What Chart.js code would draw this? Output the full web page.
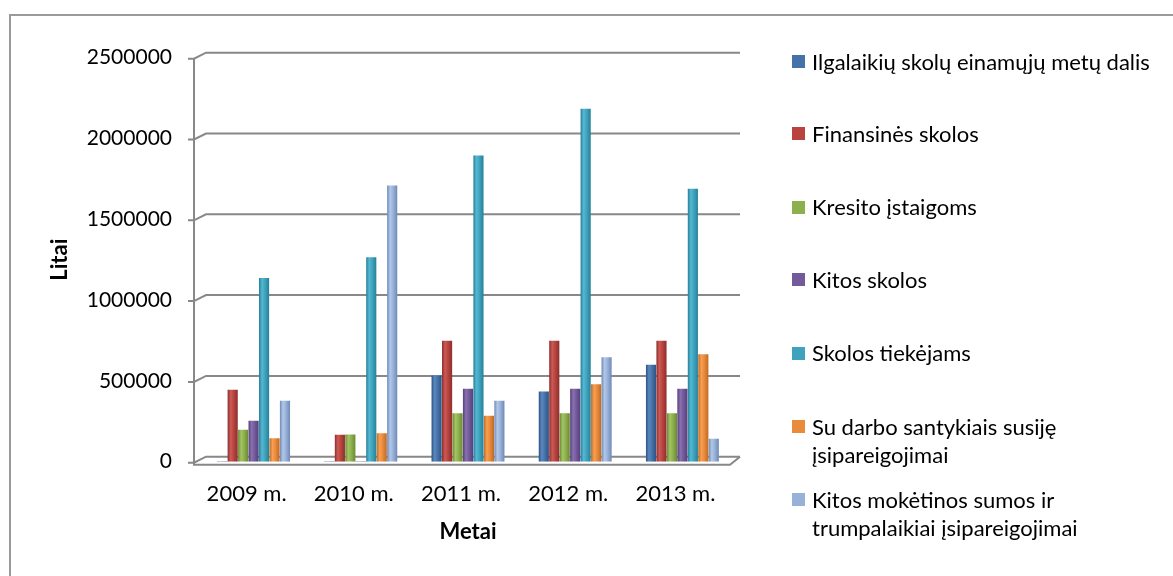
<!DOCTYPE html>
<html>
<head>
<meta charset="utf-8">
<script src="https://cdn.jsdelivr.net/npm/chart.js@4"></script>
<style>
  html, body { margin: 0; padding: 0; background: #fff; }
  #wrap { position: relative; width: 1173px; height: 576px; overflow: hidden; }
  #frame { position: absolute; left: 9px; top: 14px; width: 1200px; height: 600px;
           border-left: 2px solid #9a9a9a; border-top: 2px solid #9a9a9a; box-sizing: border-box; }
  canvas { position: absolute; left: 0; top: 0; }
  #legend { position: absolute; left: 792px; top: 0; font-family: Lato, "Open Sans", sans-serif;
            font-size: 22px; color: #000; }
  .item { position: absolute; left: 0; white-space: nowrap; }
  .sw { position: absolute; left: 0; width: 13px; height: 13px; }
  .txt { position: absolute; left: 20px; line-height: 28.3px; }
</style>
</head>
<body>
<div id="wrap">
  <div id="frame"></div>
  <canvas id="c" width="1173" height="576"></canvas>
  <div id="legend"></div>
</div>
<script>
const categories = ['2009 m.', '2010 m.', '2011 m.', '2012 m.', '2013 m.'];
const seriesNames = [
  'Ilgalaikių skolų einamųjų metų dalis',
  'Finansinės skolos',
  'Kresito įstaigoms',
  'Kitos skolos',
  'Skolos tiekėjams',
  'Su darbo santykiais susiję\nįsipareigojimai',
  'Kitos mokėtinos sumos ir\ntrumpalaikiai įsipareigojimai'
];
const ilgalaikiu = [3000, 3000, 533000, 434000, 600000];
const finansines = [445000, 166000, 748000, 748000, 748000];
const kresito = [197000, 168000, 300000, 300000, 300000];
const kitosSkolos = [253000, 3000, 451000, 451000, 451000];
const tiekejams = [1136000, 1265000, 1895000, 2184000, 1689000];
const darbo = [145000, 176000, 284000, 480000, 665000];
const kitosMoketinos = [377000, 1709000, 377000, 647000, 142000];
const yTicks = [0, 500000, 1000000, 1500000, 2000000, 2500000];

const seriesValues = [ilgalaikiu, finansines, kresito, kitosSkolos, tiekejams, darbo, kitosMoketinos];
const mainColors = ['#4572a7', '#b8433f', '#8eaf4d', '#735a9b', '#3fa3bd', '#ea8a3b', '#98b1d9'];
const darkColors = ['#2d5283', '#8c2f2c', '#6a8a33', '#54407a', '#267f98', '#bd6a24', '#7089b4'];
const lightColors = ['#5a88bf', '#cc5a56', '#a2c464', '#8a70b0', '#55b8d2', '#f6a055', '#b2c8e8'];

const CAT_PCT = 0.683, BAR_PCT = 0.97;

function barGradient(ctx) {
  const chart = ctx.chart;
  const xs = chart.scales.x;
  if (!xs || !chart.chartArea || ctx.type !== 'data') return mainColors[ctx.datasetIndex];
  const n = seriesValues.length;
  const w = xs.width / categories.length;
  const gw = w * CAT_PCT;
  const slot = gw / n;
  const cx = xs.getPixelForValue(ctx.dataIndex) - gw / 2 + slot * (ctx.datasetIndex + 0.5);
  const bw = slot * BAR_PCT;
  const g = chart.ctx.createLinearGradient(cx - bw / 2, 0, cx + bw / 2, 0);
  const i = ctx.datasetIndex;
  g.addColorStop(0, darkColors[i]);
  g.addColorStop(0.3, lightColors[i]);
  g.addColorStop(0.6, mainColors[i]);
  g.addColorStop(1, darkColors[i]);
  return g;
}

const wallPlugin = {
  id: 'wall',
  beforeDatasetsDraw(chart) {
    const { ctx, chartArea } = chart;
    const ys = chart.scales.y;
    const L = chartArea.left, R = chartArea.right;
    const dx = 6, dy = 5;
    ctx.save();
    ctx.strokeStyle = '#888888';
    ctx.lineWidth = 2;
    ctx.lineJoin = 'miter';
    yTicks.forEach(v => {
      const y = ys.getPixelForValue(v);
      ctx.beginPath();
      ctx.moveTo(L - 12, y + 1);
      ctx.lineTo(L - 6, y + 1);
      ctx.lineTo(L + dx, y - dy);
      ctx.lineTo(R + 4, y - dy);
      ctx.stroke();
    });
    const yTop = ys.getPixelForValue(yTicks[yTicks.length - 1]);
    const y0 = ys.getPixelForValue(0);
    ctx.beginPath();
    ctx.moveTo(L - 6, yTop + 1);
    ctx.lineTo(L - 6, y0 + 3);
    ctx.lineTo(R - 6, y0 + 3);
    ctx.lineTo(R + 4, y0 - dy);
    ctx.stroke();
    ctx.restore();
  }
};

const datasets = seriesValues.map((vals, i) => ({
  label: seriesNames[i],
  data: vals,
  backgroundColor: barGradient,
  borderColor: darkColors[i],
  borderWidth: 0,
  categoryPercentage: CAT_PCT,
  barPercentage: BAR_PCT
}));

const FONT = 'Lato, "Open Sans", sans-serif';

new Chart(document.getElementById('c'), {
  type: 'bar',
  data: { labels: categories, datasets },
  options: {
    responsive: false,
    animation: false,
    events: [],
    layout: { padding: { left: 38, right: 437, top: 57.7, bottom: 20 } },
    plugins: { legend: { display: false }, tooltip: { enabled: false } },
    scales: {
      x: {
        grid: { display: false, drawTicks: false },
        border: { display: false },
        ticks: { color: '#000', font: { family: FONT, size: 22 }, padding: 19, labelOffset: -7, maxRotation: 0 },
        title: { display: true, text: 'Metai', color: '#000', font: { family: FONT, size: 22, weight: 'bold' }, padding: { top: 0, bottom: 11 } },
        afterFit(scale) { scale.height = 576 - 20 - 461.7; }
      },
      y: {
        min: 0, max: 2500000,
        afterBuildTicks(scale) { scale.ticks = yTicks.map(v => ({ value: v })); },
        grid: { display: false, drawTicks: false },
        border: { display: false },
        ticks: { color: '#000', font: { family: FONT, size: 21 }, padding: 28, callback: v => String(v) },
        title: { display: true, text: 'Litai', color: '#000', font: { family: FONT, size: 22, weight: 'bold' }, padding: { top: 9, bottom: 0 } },
        afterFit(scale) { scale.width = 162; }
      }
    }
  },
  plugins: [wallPlugin]
});

// HTML legend
const legendRows = [61.7, 134, 207.3, 280, 353.3, 426.7, 500];
const legend = document.getElementById('legend');
seriesNames.forEach((name, i) => {
  const item = document.createElement('div');
  item.className = 'item';
  item.style.top = (legendRows[i] - 14.15) + 'px';
  const sw = document.createElement('div');
  sw.className = 'sw';
  sw.style.background = mainColors[i];
  sw.style.top = (14.15 - 6.5) + 'px';
  const txt = document.createElement('div');
  txt.className = 'txt';
  txt.style.top = '0px';
  name.split('\n').forEach((line, k) => {
    if (k) txt.appendChild(document.createElement('br'));
    txt.appendChild(document.createTextNode(line));
  });
  item.appendChild(sw);
  item.appendChild(txt);
  legend.appendChild(item);
});
</script>
</body>
</html>
